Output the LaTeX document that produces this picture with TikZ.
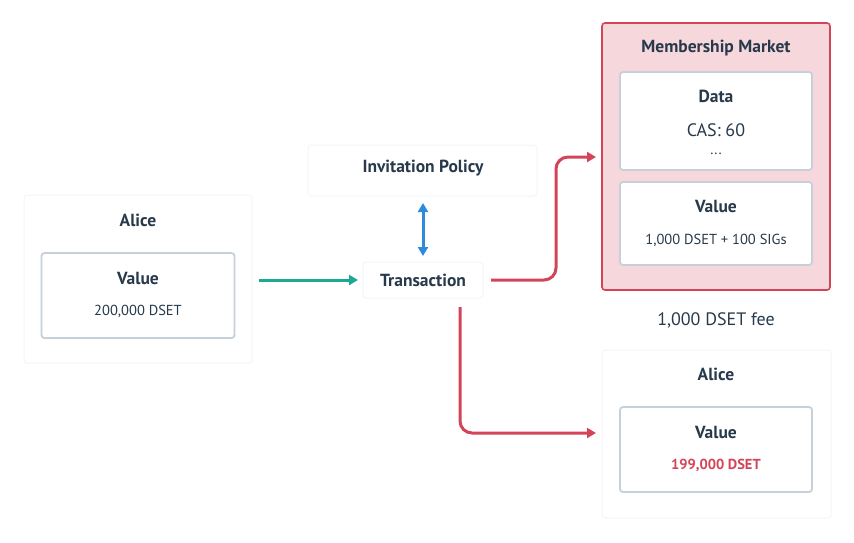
\documentclass[tikz,border=0pt]{standalone}
\usepackage{fontspec}
\setmainfont{PT Sans}
\usetikzlibrary{arrows.meta,calc}
\definecolor{txt}{HTML}{27394A}
\definecolor{boxline}{HTML}{C5D0DA}
\definecolor{redc}{HTML}{D44459}
\definecolor{pinkc}{HTML}{F6D8DC}
\definecolor{tealc}{HTML}{1BA996}
\definecolor{bluec}{HTML}{2E8ADC}
\definecolor{shadowc}{HTML}{F4F5F6}
\tikzset{
  card/.style={draw=shadowc, line width=1pt, fill=white, rounded corners=3pt},
  inner/.style={draw=boxline, line width=1.8pt, fill=white, rounded corners=3pt},
  mmbox/.style={draw=redc, line width=1.6pt, fill=pinkc, rounded corners=3pt},
  ttl/.style={text=txt, font=\bfseries\fontsize{17.5}{20}\selectfont, inner sep=0pt},
  val/.style={text=txt, font=\fontsize{14.5}{17}\selectfont, inner sep=0pt},
  big/.style={text=txt, font=\fontsize{18}{20}\selectfont, inner sep=0pt},
  arr/.style={line width=3pt, -{Triangle[length=9pt,width=10pt]}},
  darr/.style={line width=3pt, {Triangle[length=9pt,width=10pt]}-{Triangle[length=9pt,width=10pt]}},
}
\begin{document}
\begin{tikzpicture}[x=1pt,y=-1pt]
\useasboundingbox (0,0) rectangle (854,542);
% left Alice
\draw[card] (24,195) rectangle (252,363);
\node[ttl] (alice1) at (138,220) {Alice};
\draw[inner] (41.5,253) rectangle (234.5,338);
\node[ttl] (val1) at (138,278) {Value};
\node[val] (amt1) at (138,311) {200,000 DSET};
\coordinate (aliceR) at (259,280);
% Invitation policy
\draw[card] (308,145) rectangle (537,196);
\node[ttl] (inv) at (423,168) {Invitation Policy};
% Transaction
\draw[card] (363,262) rectangle (483,298);
\node[ttl] (tx) at (423,280) {Transaction};
% Membership market
\draw[mmbox] (602,23) rectangle (830,290);
\node[ttl] (mm) at (716,48) {Membership Market};
\draw[inner] (620,72) rectangle (812,170);
\node[ttl] (data) at (716,96) {Data};
\node[big] (cas) at (716,130) {CAS: 60};
\node[val] (dots) at (716,154) {...};
\draw[inner] (620,182) rectangle (812,265);
\node[ttl] (val2) at (716,206) {Value};
\node[val] (amt2) at (716,240) {1,000 DSET + 100 SIGs};
\node[big] (fee) at (716,320) {1,000 DSET fee};
% right Alice
\draw[card] (602,350) rectangle (831,518);
\node[ttl] (alice2) at (716,374) {Alice};
\draw[inner] (620,407) rectangle (812,492);
\node[ttl] (val3) at (716,432) {Value};
\node[ttl, text=redc, font=\bfseries\fontsize{14.5}{17}\selectfont] (amt3) at (716,465) {199,000 DSET};
% connectors
\coordinate (txR) at (491,280);
\coordinate (txB) at (460,307);
\coordinate (mmIn) at (596,157);
\coordinate (alIn) at (596,433);
\coordinate (invB) at (423,203);
\coordinate (txT) at (423,256);
\coordinate (txL) at (358,280);
\draw[arr, tealc] (aliceR) -- (txL);
\draw[darr, bluec] (invB) -- (txT);
\draw[arr, redc, rounded corners=12pt] (txR) -| (556,157) -- (mmIn);
\draw[arr, redc, rounded corners=12pt] (txB) |- (alIn);
\end{tikzpicture}
\end{document}
